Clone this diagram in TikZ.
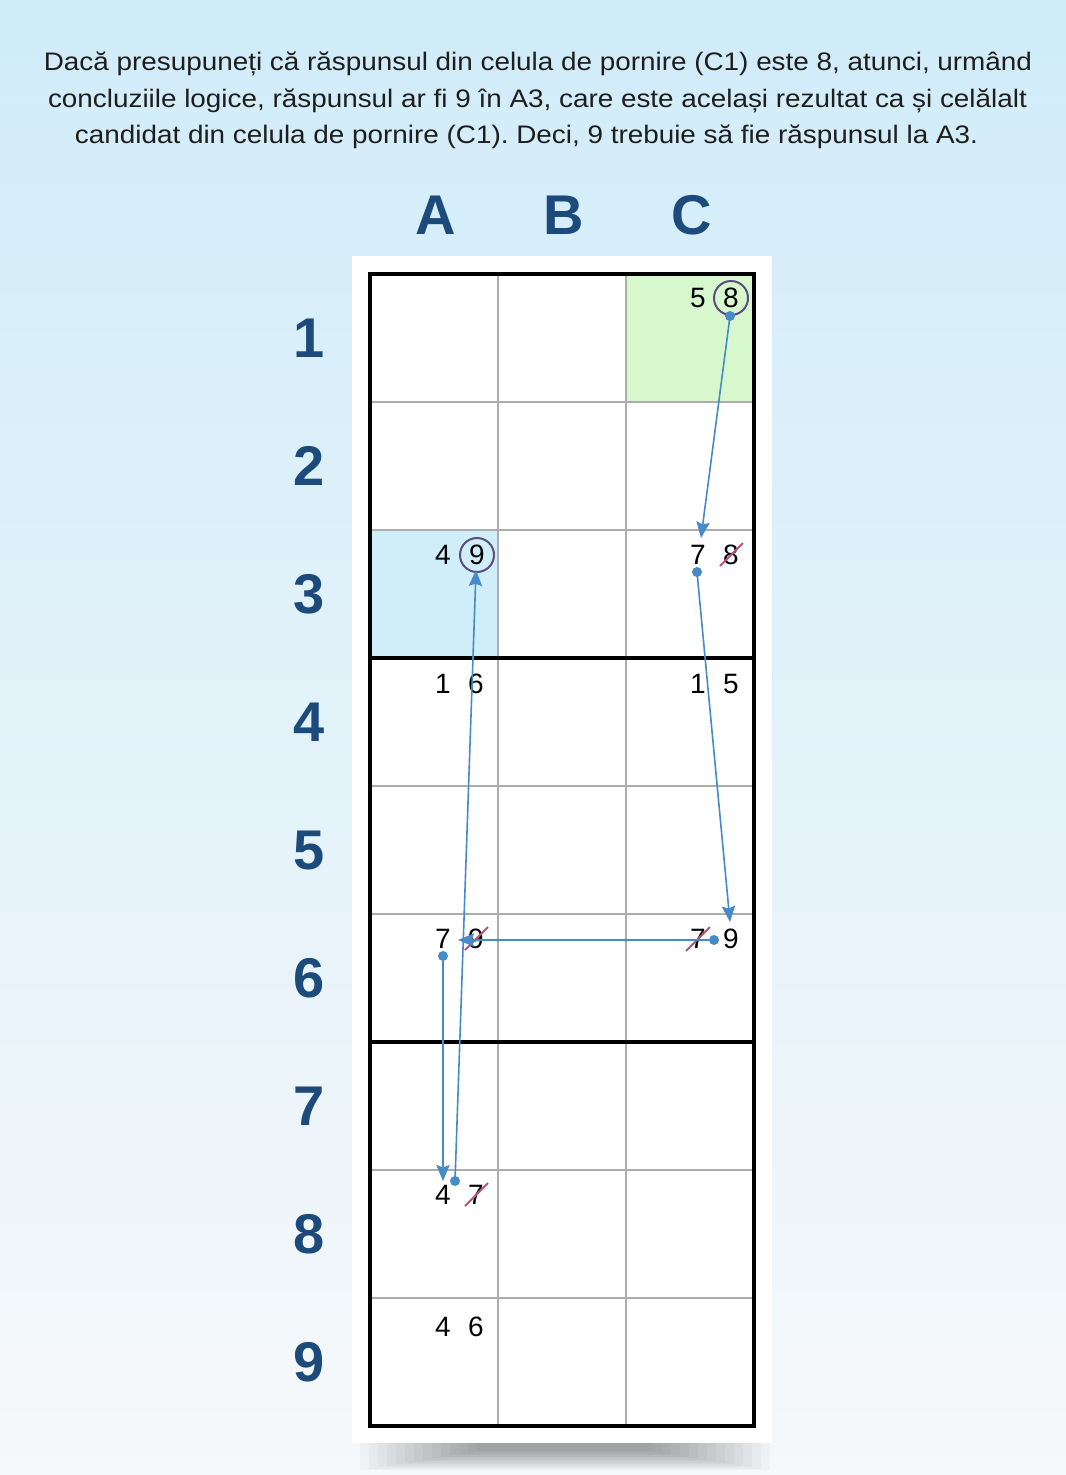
\documentclass[tikz,border=0pt]{standalone}
\usepackage{fontspec}
\setmainfont{Liberation Sans}
\newfontfamily\headfont[FakeStretch=1.1]{Liberation Sans}
\usetikzlibrary{arrows.meta}
\frenchspacing
\definecolor{bgtop}{RGB}{208,236,249}
\definecolor{bgmid}{RGB}{224,241,249}
\definecolor{bgbot}{RGB}{246,248,250}
\definecolor{labblue}{RGB}{28,74,122}
\definecolor{headtxt}{RGB}{30,30,30}
\definecolor{arrblue}{RGB}{70,138,200}
\definecolor{ringcol}{RGB}{92,76,128}
\definecolor{strikecol}{RGB}{184,84,124}
\definecolor{cellgreen}{RGB}{214,248,204}
\definecolor{cellblue}{RGB}{208,238,250}
\definecolor{gridgray}{RGB}{172,172,172}
\begin{document}
\begin{tikzpicture}[x=0.75pt,y=-0.75pt,
  head/.style={font=\headfont\fontsize{19pt}{23pt}\selectfont, text=headtxt, inner sep=0pt},
  collab/.style={font=\fontsize{42pt}{46pt}\selectfont\bfseries, text=labblue, inner sep=0pt},
  digit/.style={font=\fontsize{21pt}{24pt}\selectfont, text=black, inner sep=0pt},
  ring/.style={circle, draw=ringcol, line width=1.5pt, minimum size=25.5pt},
  thingrid/.style={draw=gridgray, line width=1.2pt},
  thickgrid/.style={draw=black, line width=3.6pt},
  dotnode/.style={circle, fill=arrblue, inner sep=0pt, minimum size=7.5pt},
  arr/.style={draw=arrblue, line width=1.2pt, -{Stealth[length=12pt,width=10pt,inset=1.8pt]}},
  strike/.style={draw=strikecol, line width=1.5pt}]
\useasboundingbox (0,0) rectangle (1066,1475);
\shade[top color=bgtop, middle color=bgmid, bottom color=bgbot] (0,0) rectangle (1066,1475);
% heading
\node[head, anchor=base] (h1) at (538,70) {Dacă presupuneți că răspunsul din celula de pornire (C1) este 8, atunci, urmând};
\node[head, anchor=base] (h2) at (537.5,107) {concluziile logice, răspunsul ar fi 9 în A3, care este același rezultat ca și celălalt};
\node[head, anchor=base] (h3) at (526.5,143) {candidat din celula de pornire (C1). Deci, 9 trebuie să fie răspunsul la A3.};
% column and row labels
\foreach \l [count=\k] in {A,B,C}
  \node[collab] (col\l) at (436+128*\k-128,215) {\l};
\foreach \r in {1,...,9}
  \node[collab] (row\r) at (309,338+128*\r-128) {\r};
% shadow under panel
\foreach \i in {0,...,13}
  \fill[black, opacity=0.028] (360+9*\i,1443) rectangle (770-9*\i,1470-1.5*\i);
% white panel
\fill[white] (352,256) rectangle (772,1443);
% highlighted cells
\fill[cellgreen] (626,274) rectangle (754,402);
\fill[cellblue] (370,530) rectangle (498,658);
% grid
\foreach \i in {1,2}
  \draw[thingrid] (370+128*\i,274) -- (370+128*\i,1426);
\foreach \j in {1,...,8}
  \draw[thingrid] (370,274+128*\j) -- (754,274+128*\j);
\draw[thickgrid] (370,658) -- (754,658);
\draw[thickgrid] (370,1042) -- (754,1042);
\draw[thickgrid] (370,274) rectangle (754,1426);
% candidates
\node[digit] (c1a) at (698,298) {5};
\node[digit, ring] (c1b) at (731,298) {8};
\node[digit] (a3a) at (443,555) {4};
\node[digit, ring] (a3b) at (477,555) {9};
\node[digit] (c3a) at (698,555) {7};
\node[digit] (c3b) at (731,555) {8};
\node[digit] (a4a) at (443,684) {1};
\node[digit] (a4b) at (476,684) {6};
\node[digit] (c4a) at (698,684) {1};
\node[digit] (c4b) at (731,684) {5};
\node[digit] (a6a) at (443,939) {7};
\node[digit] (a6b) at (476,939) {9};
\node[digit] (c6a) at (698,939) {7};
\node[digit] (c6b) at (731,939) {9};
\node[digit] (a8a) at (443,1195) {4};
\node[digit] (a8b) at (476,1195) {7};
\node[digit] (a9a) at (443,1327) {4};
\node[digit] (a9b) at (476,1327) {6};
% strikes
\draw[strike] ([shift={(-11,11)}]c3b.center) -- ([shift={(12,-12)}]c3b.center);
\draw[strike] ([shift={(-11,11)}]a6b.center) -- ([shift={(12,-12)}]a6b.center);
\draw[strike] ([shift={(-12,12)}]c6a.center) -- ([shift={(12,-12)}]c6a.center);
\draw[strike] ([shift={(-11,11)}]a8b.center) -- ([shift={(12,-12)}]a8b.center);
% arrow chain
\node[dotnode] (d1) at (730,316) {};
\node[dotnode] (d2) at (697,572) {};
\node[dotnode] (d3) at (714,940) {};
\node[dotnode] (d4) at (443,956) {};
\node[dotnode] (d5) at (455,1181) {};
\coordinate (t1) at (701,538);
\coordinate (t2) at (730,922);
\coordinate (t3) at (458,940);
\coordinate (t4) at (443,1181);
\coordinate (t5) at (476,570);
\draw[arr] (d1.center) -- (t1);
\draw[arr] (d2.center) -- (t2);
\draw[arr] (d3.center) -- (t3);
\draw[arr] (d4.center) -- (t4);
\draw[arr] (d5.center) -- (t5);
\end{tikzpicture}
\end{document}
